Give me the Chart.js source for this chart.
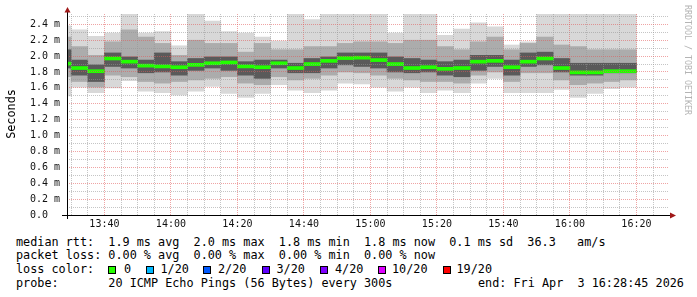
<!DOCTYPE html>
<html lang="en">
<head>
    <meta charset="UTF-8">
    <title>SmokePing latency</title>
    <script src="https://cdn.jsdelivr.net/npm/chart.js"></script>
    <style>
        body { margin: 0; background: #fff; }
        #wrap { position: relative; width: 697px; height: 297px; overflow: hidden; font-family: "DejaVu Sans Mono", monospace; color: #000; }
        #smokeChart { position: absolute; left: 0; top: 0; }
        .txt { position: absolute; white-space: pre; font-size: 11.8px; line-height: 14px; }
        .box { position: absolute; width: 6px; height: 6px; border: 1px solid #000; }
        #ylabel { position: absolute; left: -19px; top: 107px; width: 60px; height: 14px; text-align: center; font-size: 11.8px; line-height: 14px; transform: rotate(-90deg); }
        #mark { position: absolute; left: 683px; top: 5px; writing-mode: vertical-rl; font-size: 8.3px; color: #b4b4b4; white-space: pre; }
    </style>
</head>
<body>
<div id="wrap">
    <canvas id="smokeChart" width="697" height="232"></canvas>
    <div id="ylabel">Seconds</div>
    <div id="mark">RRDTOOL / TOBI OETIKER</div>
    <div id="legend"></div>
</div>

<script>
    // 5 minute slots (start time of each slot)
    const slots = ["13:25","13:30","13:35","13:40","13:45","13:50","13:55","14:00","14:05","14:10",
        "14:15","14:20","14:25","14:30","14:35","14:40","14:45","14:50","14:55","15:00",
        "15:05","15:10","15:15","15:20","15:25","15:30","15:35","15:40","15:45","15:50",
        "15:55","16:00","16:05","16:10","16:15"];

    // rtt in ms
    const medianRtt = [1.905,1.85,1.81,1.97,1.93,1.88,1.87,1.86,1.89,1.91,
        1.92,1.87,1.86,1.91,1.85,1.90,1.94,1.975,1.98,1.95,
        1.90,1.85,1.86,1.84,1.85,1.93,1.94,1.86,1.93,1.97,
        1.85,1.795,1.795,1.81,1.81];
    const maxRtt = [2.38,2.33,2.25,2.29,2.55,2.29,2.31,2.13,2.55,2.44,
        2.31,2.29,2.24,2.19,2.55,2.46,2.55,2.55,2.55,2.55,
        2.29,2.55,2.55,2.26,2.34,2.42,2.37,2.14,2.18,2.55,
        2.55,2.55,2.55,2.55,2.55];
    const minRtt = [1.50,1.61,1.54,1.60,1.69,1.56,1.54,1.51,1.56,1.62,
        1.53,1.48,1.53,1.64,1.57,1.54,1.57,1.66,1.65,1.61,
        1.56,1.61,1.54,1.57,1.54,1.66,1.72,1.54,1.54,1.54,
        1.58,1.48,1.53,1.59,1.61];
    const midHigh = [2.24,2.12,2.01,2.18,2.33,2.24,2.16,2.01,2.20,2.16,
        2.16,2.05,2.16,2.08,2.08,2.12,2.12,2.16,2.18,2.18,
        2.16,2.20,2.20,2.12,2.08,2.18,2.24,2.08,2.16,2.24,
        2.14,2.12,2.08,2.08,2.08];
    const midLow = [1.74,1.68,1.61,1.76,1.74,1.68,1.66,1.68,1.70,1.72,
        1.74,1.66,1.64,1.74,1.70,1.72,1.76,1.80,1.79,1.76,
        1.72,1.70,1.68,1.68,1.66,1.76,1.80,1.68,1.79,1.79,
        1.70,1.64,1.66,1.68,1.70];
    const coreHigh = [2.08,1.95,1.89,2.04,1.99,1.95,2.04,1.93,1.97,1.99,
        1.99,1.93,1.95,1.95,1.91,1.97,1.99,2.04,2.04,2.04,
        1.99,1.97,1.95,1.93,1.95,2.01,2.01,1.95,2.04,2.05,
        1.97,1.91,1.91,1.91,1.91];
    const coreLow = [1.85,1.76,1.68,1.87,1.85,1.79,1.80,1.76,1.82,1.85,
        1.82,1.76,1.72,1.85,1.79,1.79,1.85,1.89,1.87,1.85,
        1.80,1.79,1.80,1.76,1.74,1.82,1.87,1.76,1.87,1.89,
        1.80,1.76,1.76,1.79,1.79];

    const timeLabels = ["13:40","14:00","14:20","14:40","15:00","15:20","15:40","16:00","16:20"];
    const yLabels = ["0.0","0.2","0.4","0.6","0.8","1.0","1.2","1.4","1.6","1.8","2.0","2.2","2.4"];

    const toMin = s => { const p = s.split(":"); return +p[0] * 60 + +p[1]; };
    const fmtMin = m => Math.floor(m / 60) + ":" + String(m % 60).padStart(2, "0");
    const centers = slots.map(s => toMin(s) + 2.5);

    const band = (lo, hi) => centers.map((x, i) => ({ x: x, y: [lo[i], hi[i]] }));
    const medianBand = centers.map((x, i) => ({ x: x, y: [medianRtt[i] - 0.019, medianRtt[i] + 0.019] }));

    // axis lines + arrows like rrdtool
    const axisPlugin = {
        id: "axes",
        afterDraw(chart) {
            const c = chart.ctx, a = chart.chartArea;
            c.save();
            c.strokeStyle = "#000";
            c.lineWidth = 1;
            c.beginPath();
            c.moveTo(62, a.bottom + 0.5); c.lineTo(670, a.bottom + 0.5);
            c.moveTo(a.left + 0.5, a.bottom + 4); c.lineTo(a.left + 0.5, 12);
            c.stroke();
            c.fillStyle = "#a01818";
            c.beginPath();
            c.moveTo(a.left - 2.5, 12.5); c.lineTo(a.left + 3.5, 12.5); c.lineTo(a.left + 0.5, 7); c.closePath();
            c.fill();
            c.beginPath();
            c.moveTo(670, a.bottom - 2.5); c.lineTo(670, a.bottom + 3.5); c.lineTo(676, a.bottom + 0.5); c.closePath();
            c.fill();
            c.restore();
        }
    };

    const barOpts = { grouped: false, barPercentage: 1, categoryPercentage: 1, borderWidth: 0 };
    const tickFont = { family: "DejaVu Sans Mono", size: 10 };

    new Chart(document.getElementById("smokeChart"), {
        type: "bar",
        data: {
            datasets: [
                Object.assign({ data: medianBand, backgroundColor: "#22ff00" }, barOpts),
                Object.assign({ data: band(coreLow, coreHigh), backgroundColor: "#5a5a5a" }, barOpts),
                Object.assign({ data: band(midLow, midHigh), backgroundColor: "#acacac" }, barOpts),
                Object.assign({ data: band(minRtt, maxRtt), backgroundColor: "#d8d8d8" }, barOpts)
            ]
        },
        options: {
            responsive: false,
            animation: false,
            layout: { padding: { top: 14, right: 29, left: 0, bottom: 0 } },
            plugins: { legend: { display: false }, tooltip: { enabled: false } },
            scales: {
                x: {
                    type: "linear",
                    offset: false,
                    min: 808.75,
                    max: 989.5,
                    afterBuildTicks: s => {
                        const t = [];
                        for (let m = 810; m <= 985; m += 5) t.push({ value: m });
                        s.ticks = t;
                    },
                    afterFit: s => { s.height = 17; },
                    border: { display: false, dash: [1, 1] },
                    grid: {
                        z: 1,
                        offset: false,
                        drawTicks: false,
                        color: c => (c.tick && timeLabels.includes(fmtMin(c.tick.value))) ? "rgba(225,90,90,0.55)" : "rgba(150,150,150,0.55)"
                    },
                    ticks: {
                        padding: 3,
                        maxRotation: 0,
                        autoSkip: false,
                        color: "#111",
                        font: tickFont,
                        callback: v => timeLabels.includes(fmtMin(v)) ? fmtMin(v) : ""
                    }
                },
                y: {
                    min: 0,
                    max: 2.53,
                    afterBuildTicks: s => {
                        const t = [];
                        for (let k = 0; k <= 25; k++) t.push({ value: k / 10 });
                        s.ticks = t;
                    },
                    afterFit: s => { s.width = 67; },
                    border: { display: false, dash: [1, 1] },
                    grid: {
                        z: 1,
                        drawTicks: false,
                        color: c => (c.tick && Math.round(c.tick.value * 10) % 2 === 0) ? "rgba(225,90,90,0.55)" : "rgba(150,150,150,0.55)"
                    },
                    ticks: {
                        padding: 7,
                        autoSkip: false,
                        color: "#111",
                        font: tickFont,
                        callback: v => {
                            const k = Math.round(v * 10);
                            if (k % 2 !== 0) return "";
                            const lab = yLabels[k / 2];
                            return k === 0 ? lab + "  " : lab + " m";
                        }
                    }
                }
            }
        },
        plugins: [axisPlugin]
    });

    // rrdtool style legend
    const lossColors = ["#26ff00", "#00b8ff", "#0059ff", "#5e00ff", "#7e00ff", "#dd00ff", "#ff0000"];
    const lossNames = ["0", "1/20", "2/20", "3/20", "4/20", "10/20", "19/20"];
    const boxX = [108, 146, 203, 261.5, 320, 378, 442.5];
    const lossTextX = [124, 160.5, 218, 276.5, 335, 392, 456.5];

    const legend = document.getElementById("legend");
    function addText(str, x, yMid) {
        const d = document.createElement("div");
        d.className = "txt";
        d.style.left = x + "px";
        d.style.top = (yMid - 7) + "px";
        d.textContent = str;
        legend.appendChild(d);
    }
    addText("median rtt:  1.9 ms avg  2.0 ms max  1.8 ms min  1.8 ms now  0.1 ms sd  36.3   am/s", 16, 241.7);
    addText("packet loss: 0.00 % avg  0.00 % max  0.00 % min  0.00 % now", 16, 255);
    addText("loss color:", 16, 269);
    lossNames.forEach((n, i) => {
        const b = document.createElement("div");
        b.className = "box";
        b.style.left = boxX[i] + "px";
        b.style.top = "266px";
        b.style.background = lossColors[i];
        legend.appendChild(b);
        addText(n, lossTextX[i], 269);
    });
    addText("probe:       20 ICMP Echo Pings (56 Bytes) every 300s", 16, 282.7);
    addText("end: Fri Apr  3 16:28:45 2026", 478, 282.7);
</script>
</body>
</html>
